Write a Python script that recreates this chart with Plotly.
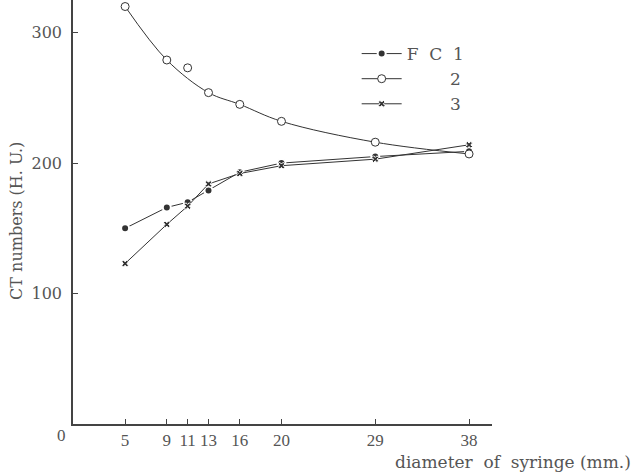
import plotly.graph_objects as go

# ---- data ----
diameters = [5, 9, 11, 13, 16, 20, 29, 38]
fc1 = [150, 166, 170, 179, 193, 200, 205, 209]
fc2 = [320, 279, 273, 254, 245, 232, 216, 207]
fc3 = [123, 153, 167, 184, 192, 198, 203, 214]
# the curve of FC 2 is a fitted curve that leaves out the point at 11 mm
fc2_curve_skip = [11]

x_ticks = [5, 9, 11, 13, 16, 20, 29, 38]
y_ticks = [100, 200, 300]

INK = "#333333"
TXT = "#555555"
SERIF = "DejaVu Serif, Liberation Serif, serif"
NARROW = "Liberation Serif, DejaVu Serif, serif"
NB = "\u00a0"

fig = go.Figure()

fig.add_trace(go.Scatter(x=diameters, y=fc1, mode="lines+markers", name="F" + NB * 2 + "C" + NB * 2 + "1",
                         line=dict(color=INK, width=1),
                         marker=dict(symbol="circle", size=8, color=INK, line=dict(color="white", width=2))))

cx = [d for d in diameters if d not in fc2_curve_skip]
cy = [v for d, v in zip(diameters, fc2) if d not in fc2_curve_skip]
fig.add_trace(go.Scatter(x=cx, y=cy, mode="lines+markers", name=NB * 8 + "2",
                         line=dict(color=INK, width=1, shape="spline", smoothing=1.0),
                         marker=dict(symbol="circle", size=8, color="white", line=dict(color=INK, width=1))))
sx = [d for d in diameters if d in fc2_curve_skip]
sy = [v for d, v in zip(diameters, fc2) if d in fc2_curve_skip]
fig.add_trace(go.Scatter(x=sx, y=sy, mode="markers", showlegend=False,
                         marker=dict(symbol="circle", size=8, color="white", line=dict(color=INK, width=1))))

fig.add_trace(go.Scatter(x=diameters, y=fc3, mode="lines+markers", name=NB * 8 + "3",
                         line=dict(color=INK, width=1),
                         marker=dict(symbol="x", size=6, color=INK, line=dict(color="white", width=1))))

fig.update_layout(
    width=640, height=475,
    margin=dict(l=73, r=148, t=0, b=51),
    paper_bgcolor="white", plot_bgcolor="white",
    font=dict(family=SERIF, color=TXT, size=16),
    showlegend=True,
    legend=dict(x=0.677, y=0.915, xanchor="left", yanchor="top", bgcolor="rgba(0,0,0,0)",
                traceorder="normal", font=dict(size=17, color=TXT, family=SERIF), itemwidth=40,
                tracegroupgap=0),
    xaxis=dict(range=[0, 40.2], tickmode="array", tickvals=x_ticks, ticktext=[str(t) for t in x_ticks],
               showgrid=False, zeroline=False, showline=True, linecolor="#444444", linewidth=1.5,
               ticks="inside", ticklen=5, tickwidth=1, tickcolor="#444444", tickangle=0,
               tickfont=dict(size=17, color=TXT, family=NARROW)),
    yaxis=dict(range=[0, 325], tickmode="array", tickvals=y_ticks, ticktext=[str(t) for t in y_ticks],
               showgrid=False, zeroline=False, showline=True, linecolor="#444444", linewidth=1.5,
               ticks="inside", ticklen=5, tickwidth=1, tickcolor="#444444", ticklabelstandoff=6,
               tickfont=dict(size=16, color=TXT, family=SERIF)),
    annotations=[
        dict(text="0", xref="paper", yref="paper", x=-0.0286, y=-0.026, showarrow=False,
             font=dict(size=17, color=TXT, family=NARROW), xanchor="center", yanchor="middle"),
        dict(text="diameter" + NB * 2 + "of" + NB * 2 + "syringe" + NB + "(mm.)", xref="paper", yref="paper",
             x=1.336, y=-0.0896, showarrow=False, font=dict(size=17, color=TXT, family=SERIF),
             xanchor="right", yanchor="middle"),
        dict(text="CT" + NB + "numbers" + NB + "(H." + NB + "U.)", xref="paper", yref="paper",
             x=-0.1337, y=0.479, showarrow=False, textangle=-90,
             font=dict(size=16, color=TXT, family=SERIF), xanchor="center", yanchor="middle"),
    ],
)

fig.write_html("out.html")
